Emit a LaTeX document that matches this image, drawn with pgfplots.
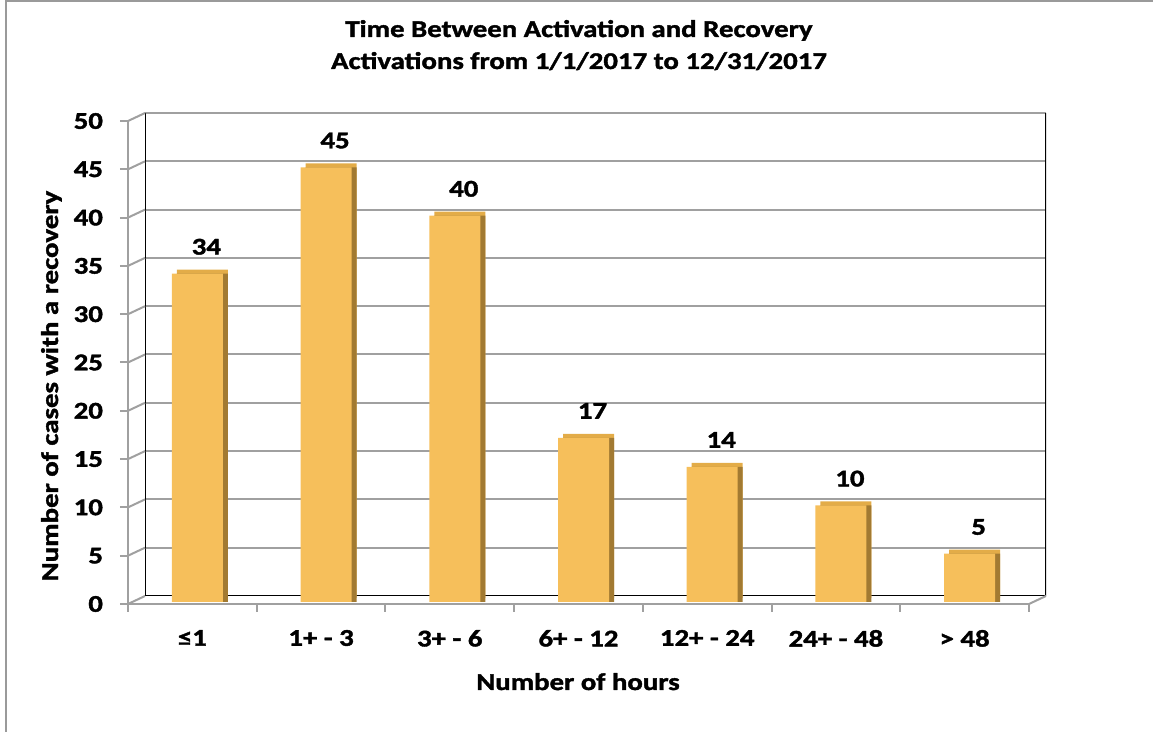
\documentclass[border=0pt]{standalone}
\usepackage{fontspec}
\setmainfont{Carlito}[FakeStretch=1.2, BoldFeatures={FakeBold=1.6}]
\usepackage{pgfplots}
\usepackage{pgfplotstable}
\pgfplotsset{compat=1.18}
\definecolor{barfront}{HTML}{F6BF5B}
\definecolor{bartop}{HTML}{E3AC48}
\definecolor{barside}{HTML}{A27A32}
\definecolor{gridgray}{HTML}{A0A0A0}
\definecolor{framegray}{HTML}{9A9A9A}
\newcommand\lbl{\fontsize{12}{14.4}\selectfont\bfseries}
\pgfplotstableread{
x y
0 34
1 45
2 40
3 17
4 14
5 10
6 5
}\data
\begin{document}
\begin{tikzpicture}
\useasboundingbox (0,0) rectangle (576.5pt,366pt);
\draw[framegray, line width=1pt] (3pt,0) -- (3pt,365.5pt) -- (576.5pt,365.5pt);
\node[font=\lbl, anchor=base] at (289.5pt,347.5pt) {Time Between Activation and Recovery};
\node[font=\lbl, anchor=base] at (289.5pt,331.5pt) {Activations from 1/1/2017 to 12/31/2017};
\node[font=\lbl, anchor=base] at (289pt,21pt) {Number of hours};
\node[font=\lbl, rotate=90, anchor=base] at (29pt,173pt) {Number of cases with a recovery};
% back wall
\begin{axis}[at={(72.5pt,68pt)}, anchor=south west, scale only axis,
  width=450.5pt, height=241.5pt,
  xmin=-0.5, xmax=6.5, ymin=0, ymax=50,
  xtick=\empty, ytick={5,10,...,50}, yticklabels={}, major tick length=0,
  ymajorgrids, grid style={gridgray, line width=1pt},
  axis line style={draw=none}]
\draw[black, line width=1pt] (rel axis cs:0,1) -- (rel axis cs:0,0) -- (rel axis cs:1,0) -- (rel axis cs:1,1);
\end{axis}
% front
\begin{axis}[at={(64pt,64pt)}, anchor=south west, scale only axis,
  width=450.5pt, height=241.5pt,
  xmin=-0.5, xmax=6.5, ymin=0, ymax=50, clip=false,
  axis x line*=bottom, axis y line*=left,
  axis line style={draw=gridgray, line width=1pt, -},
  xtick={-0.5,0.5,...,6.5}, x tick label as interval,
  xticklabels={{≤1},{1+ - 3},{3+ - 6},{6+ - 12},{12+ - 24},{24+ - 48},{> 48}},
  ytick={0,5,...,50},
  tick align=outside, major tick length=4pt,
  tick style={draw=gridgray, line width=1pt},
  /pgf/number format/assume math mode=true,
  ticklabel style={font=\lbl},
  yticklabel style={xshift=-5pt},
  xticklabel style={yshift=-5.5pt},
  ybar, bar width=25.5pt,
  ]
\pgfplotsinvokeforeach{0,5,...,50}{\draw[gridgray, line width=1pt] (axis cs:-0.5,#1) -- ++(8.5pt,4pt);}
\draw[gridgray, line width=1pt] (axis cs:6.5,0) -- ++(8.5pt,4pt);
\addplot[fill=bartop, draw=none, bar shift=5pt, yshift=3pt] table[x=x,y=y] {\data};
\addplot[fill=barside, draw=none, bar shift=5pt, yshift=1pt] table[x=x,y=y] {\data};
\addplot[fill=barfront, draw=none, bar shift=2.5pt, yshift=1pt,
  nodes near coords, nodes near coords style={font=\lbl, anchor=base, inner sep=0pt, yshift=9.5pt, xshift=4.5pt, text=black}] table[x=x,y=y] {\data};
\end{axis}
\end{tikzpicture}
\end{document}
